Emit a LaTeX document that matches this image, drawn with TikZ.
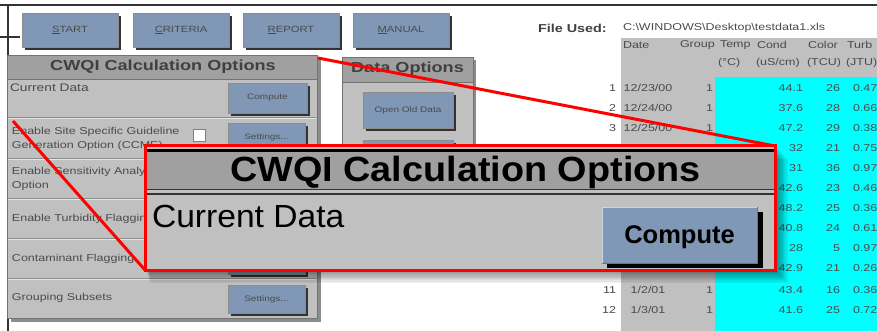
\documentclass[tikz,border=0pt]{standalone}
\usepackage{fontspec}
\setmainfont{Liberation Sans}
\usetikzlibrary{shadows}
\definecolor{btnblue}{RGB}{128,151,182}
\definecolor{panelgray}{RGB}{192,192,192}
\definecolor{titlegray}{RGB}{160,160,160}
\definecolor{blurtext}{RGB}{75,75,75}
\definecolor{cyanfill}{RGB}{0,255,255}
\definecolor{zoomred}{RGB}{255,0,0}
\newcommand{\bgs}[1]{\scalebox{1.25}[1]{#1}}
\begin{document}
\begin{tikzpicture}[x=1pt,y=-1pt]
\tikzset{
  every node/.style={inner sep=0pt, outer sep=0pt},
  cell/.style={font=\fontsize{10}{11}\selectfont, text=blurtext},
  bigcell/.style={font=\fontsize{11}{12}\selectfont, text=blurtext},
  bgbold/.style={font=\bfseries\fontsize{14.5}{15}\selectfont, text=black!75},
  filebold/.style={font=\bfseries\fontsize{11.5}{12}\selectfont, text=black!75},
  btnshadow/.style={drop shadow={shadow xshift=3pt, shadow yshift=-3pt, fill=black!80, opacity=1}},
  menubtn/.style={fill=btnblue, draw=black!45, line width=0.6pt, minimum width=96, minimum height=34, font=\fontsize{9}{10}\selectfont, text=blurtext, btnshadow},
  smallbtn/.style={fill=btnblue, draw=black!45, line width=0.6pt, font=\fontsize{8}{9}\selectfont, text=blurtext, btnshadow},
  panelbox/.style={fill=panelgray, draw=black!55, line width=0.8pt},
  titlebox/.style={fill=titlegray, draw=black!55, line width=0.8pt},
  zoomline/.style={draw=zoomred, line width=3pt}
}
\useasboundingbox (0,0) rectangle (877,331);
\fill[white] (0,0) rectangle (877,331);

% ---------------- data table (right) ----------------
\fill[panelgray] (621,38) rectangle (877,331);
\fill[cyanfill] (715,77) rectangle (877,331);
\node[filebold, anchor=west] (fileused) at (538,28) {\bgs{File Used:}};
\node[cell, anchor=west] (filepath) at (623,28) {\bgs{C:\textbackslash WINDOWS\textbackslash Desktop\textbackslash testdata1.xls}};
\node[cell, anchor=west] (hdate) at (623,45) {\bgs{Date}};
\node[cell, anchor=west] (hgroup) at (680,45) {\bgs{Group}};
\node[cell, anchor=west] (htemp) at (720,45) {\bgs{Temp}};
\node[cell, anchor=west] (hcond) at (757,45) {\bgs{Cond}};
\node[cell, anchor=west] (hcolor) at (808,45) {\bgs{Color}};
\node[cell, anchor=west] (hturb) at (847,45) {\bgs{Turb}};
\node[cell, anchor=west] (utemp) at (718,63) {\bgs{(°C)}};
\node[cell, anchor=west] (ucond) at (756,63) {\bgs{(uS/cm)}};
\node[cell, anchor=west] (ucolor) at (807,63) {\bgs{(TCU)}};
\node[cell, anchor=west] (uturb) at (846,63) {\bgs{(JTU)}};

\node[cell, anchor=east] (n1) at (616,88) {\bgs{1}};
\node[cell, anchor=east] (n2) at (616,108) {\bgs{2}};
\node[cell, anchor=east] (n3) at (616,128) {\bgs{3}};
\node[cell, anchor=east] (n11) at (616,290) {\bgs{11}};
\node[cell, anchor=east] (n12) at (616,310) {\bgs{12}};
\node[cell] (d1) at (648,88) {\bgs{12/23/00}};
\node[cell] (d2) at (648,108) {\bgs{12/24/00}};
\node[cell] (d3) at (648,128) {\bgs{12/25/00}};
\node[cell] (d11) at (648,290) {\bgs{1/2/01}};
\node[cell] (d12) at (648,310) {\bgs{1/3/01}};
\foreach \r/\yy in {1/88,2/108,3/128,11/290,12/310}
  {\node[cell, anchor=east] (g\r) at (713,\yy) {\bgs{1}};}
\foreach \r/\yy/\cond/\col/\turb in {1/88/44.1/26/0.47, 2/108/37.6/28/0.66, 3/128/47.2/29/0.38, 4/148/32/21/0.75, 5/168/31/36/0.97, 6/188/42.6/23/0.46, 7/208/48.2/25/0.36, 8/228/40.8/24/0.61, 9/248/28/5/0.97, 10/268/42.9/21/0.26, 11/290/43.4/16/0.36, 12/310/41.6/25/0.72}
{
  \node[cell, anchor=east] (c\r) at (803,\yy) {\bgs{\cond}};
  \node[cell, anchor=east] (k\r) at (840,\yy) {\bgs{\col}};
  \node[cell, anchor=west] (t\r) at (853,\yy) {\bgs{\turb}};
}

% ---------------- window frame ----------------
\draw[black!80, line width=2.5pt] (0,5) -- (877,5);
\draw[black!80, line width=2.5pt] (8,5) -- (8,331);
\draw[black!80, line width=1.5pt] (0,37) -- (20,37);

% ---------------- menu buttons ----------------
\node[menubtn] (start) at (70,30) {\bgs{\underline{S}TART}};
\node[menubtn] (criteria) at (181,30) {\bgs{\underline{C}RITERIA}};
\node[menubtn] (report) at (291,30) {\bgs{\underline{R}EPORT}};
\node[menubtn] (manual) at (401,30) {\bgs{\underline{M}ANUAL}};

% ---------------- CWQI calculation options panel ----------------
\fill[black!45] (11,59) rectangle (321,322);
\filldraw[panelbox] (7,55) rectangle (317,318);
\filldraw[titlebox] (7,55) rectangle (317,79);
\foreach \yy in {117,158,198,238,278}
{
  \draw[black!45, line width=0.8pt] (8,\yy) -- (316,\yy);
  \draw[white!80!gray, line width=0.8pt] (8,\yy+1.3) -- (316,\yy+1.3);
}
\node[bgbold] (calctitle) at (163,67) {\bgs{CWQI Calculation Options}};
\node[bigcell, anchor=west] (lcur) at (10,88) {\bgs{Current Data}};
\node[cell, anchor=west] (lsite1) at (12,132) {\bgs{Enable Site Specific Guideline}};
\node[cell, anchor=west] (lsite2) at (12,146) {\bgs{Generation Option (CCME)}};
\node[cell, anchor=west] (lsens1) at (12,172) {\bgs{Enable Sensitivity Analysis}};
\node[cell, anchor=west] (lsens2) at (12,186) {\bgs{Option}};
\node[cell, anchor=west] (lturb) at (12,219) {\bgs{Enable Turbidity Flagging}};
\node[cell, anchor=west] (lcont) at (12,259) {\bgs{Contaminant Flagging}};
\node[cell, anchor=west] (lgroup) at (12,298) {\bgs{Grouping Subsets}};
\node[draw=black!50, fill=white, line width=0.6pt, minimum width=12, minimum height=12] (chk) at (199,135) {};
\node[smallbtn, minimum width=79, minimum height=30] (bcompute) at (267.5,98) {\bgs{Compute}};
\node[smallbtn, minimum width=77, minimum height=29] (bset1) at (266.5,137.5) {\bgs{Settings...}};
\node[smallbtn, minimum width=77, minimum height=29] (bhidden) at (266.5,259.5) {};
\node[smallbtn, minimum width=77, minimum height=28] (bset2) at (266.5,299) {\bgs{Settings...}};

% ---------------- data options panel ----------------
\fill[black!45] (345,60) rectangle (476,262);
\filldraw[panelbox] (342,57) rectangle (473,259);
\filldraw[titlebox] (342,57) rectangle (473,82);
\node[bgbold] (datatitle) at (407.5,69) {\bgs{Data Options}};
\node[smallbtn, minimum width=90, minimum height=36] (bopen) at (408,110) {\bgs{Open Old Data}};
\node[smallbtn, minimum width=90, minimum height=35] (bopen2) at (408,157.5) {};

% ---------------- zoom callout ----------------
\coordinate (srcTR) at (318,58);
\coordinate (srcBL) at (13,121);
\foreach \i in {1,...,10}
  {\fill[black, opacity=0.05] (145+\i*0.5, 146+\i*1.3) rectangle (775+\i*1.3, 270+\i*1.3);}
\node[draw=zoomred, line width=3pt, fill=panelgray, anchor=north west, minimum width=630, minimum height=124] (inset) at (145,146) {};
\fill[titlegray] (146.5,151) rectangle (773.5,189);
\draw[black, line width=2.5pt] (146.5,150.5) -- (773.5,150.5);
\draw[black!80, line width=1.3pt] (146.5,189.5) -- (773.5,189.5);
\draw[black!80, line width=1.3pt] (146.5,194) -- (773.5,194);
\node[font=\bfseries\fontsize{35}{36}\selectfont, anchor=base] (insettitle) at (465.5,182) {\scalebox{1.08}[1]{CWQI Calculation Options}};
\node[font=\fontsize{32}{33}\selectfont, anchor=base west] (insetcur) at (152,227) {\scalebox{1.05}[1]{Current Data}};
\fill[black] (607,212) rectangle (763,268);
\node[fill=btnblue, anchor=north west, minimum width=155, minimum height=56] (insetbtn) at (602,207) {};
\draw[white!60!btnblue, line width=1pt] (insetbtn.south west) -- (insetbtn.north west) -- (insetbtn.north east);
\draw[black!55, line width=1pt] (insetbtn.south west) -- (insetbtn.south east) -- (insetbtn.north east);
\node[font=\bfseries\fontsize{25.5}{26}\selectfont, anchor=base] (insetbtntxt) at (679.5,243) {Compute};
\draw[zoomline] (srcTR) -- (inset.north east);
\draw[zoomline] (srcBL) -- (inset.south west);
\end{tikzpicture}
\end{document}
